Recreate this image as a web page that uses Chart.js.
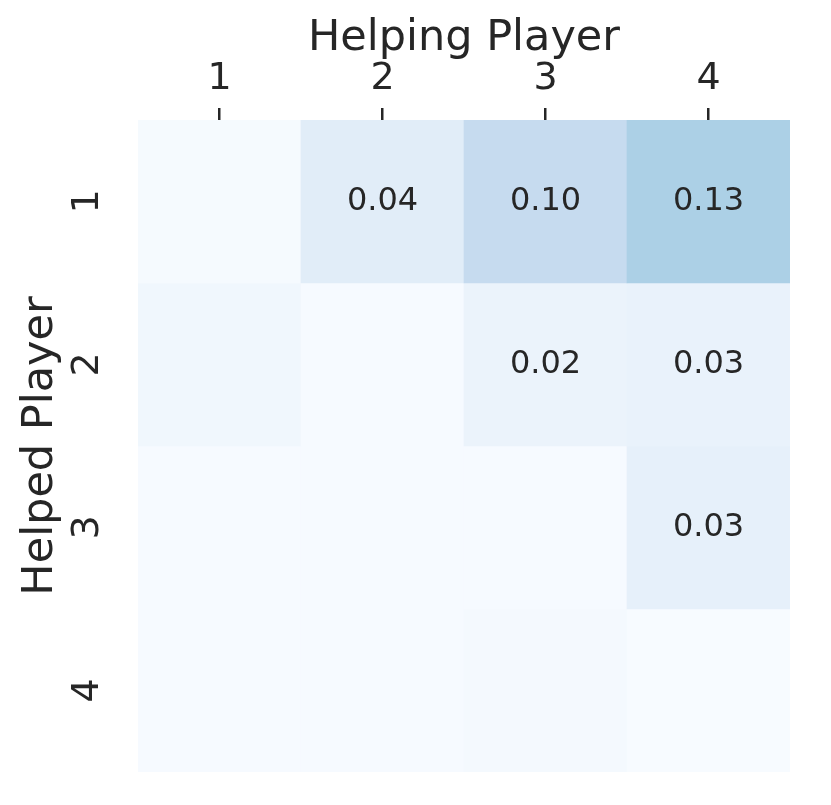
<!DOCTYPE html>
<html><head><meta charset="utf-8">
<script src="https://cdn.jsdelivr.net/npm/chart.js@4"></script>
<style>html,body{margin:0;padding:0;background:#fff}</style>
</head><body>
<canvas id="c" width="831" height="805"></canvas>
<script>
// Columns: helping player; rows: helped player
const helpingLabels = ['1', '2', '3', '4'];
const helpedLabels = ['1', '2', '3', '4'];
const helped1 = [0.004, 0.044, 0.100, 0.133];
const helped2 = [0.014, 0.002, 0.024, 0.028];
const helped3 = [0.003, 0.003, 0.002, 0.034];
const helped4 = [0.003, 0.003, 0.007, 0.001];
const rows = [helped1, helped2, helped3, helped4];
const vmin = 0, vmax = 0.4;
const annotThreshold = 0.015;

const FONT = "'DejaVu Sans', sans-serif";
const INK = '#262626';

// matplotlib "Blues" colormap stops
const blues = ['#f7fbff','#deebf7','#c6dbef','#9ecae1','#6baed6','#4292c6','#2171b5','#08519c','#08306b'];
function hex(h){return [1,3,5].map(i=>parseInt(h.substr(i,2),16));}
function blueColor(v){
  let t = Math.max(0, Math.min(1, (v - vmin) / (vmax - vmin)));
  const p = t * (blues.length - 1);
  const i = Math.min(blues.length - 2, Math.floor(p));
  const f = p - i;
  const a = hex(blues[i]), b = hex(blues[i+1]);
  const c = a.map((x, k) => Math.round(x + (b[k] - x) * f));
  return `rgb(${c[0]},${c[1]},${c[2]})`;
}

const annotPlugin = {
  id: 'annot',
  afterDatasetsDraw(chart) {
    const ctx = chart.ctx;
    ctx.save();
    ctx.font = `32px ${FONT}`;
    ctx.fillStyle = INK;
    ctx.textAlign = 'center';
    ctx.textBaseline = 'middle';
    chart.data.datasets.forEach((ds, di) => {
      const meta = chart.getDatasetMeta(di);
      meta.data.forEach((el, ci) => {
        const v = rows[di][ci];
        if (v >= annotThreshold) {
          ctx.fillText(v.toFixed(2), el.x, (el.y + el.base) / 2);
        }
      });
    });
    ctx.restore();
  }
};

new Chart(document.getElementById('c'), {
  type: 'bar',
  data: {
    labels: helpingLabels,
    datasets: rows.map((row, r) => ({
      data: row.map(() => [r, r + 1]),
      backgroundColor: row.map(blueColor),
      grouped: false,
      barPercentage: 1,
      categoryPercentage: 1,
      borderWidth: 0,
      borderSkipped: false
    }))
  },
  options: {
    responsive: false,
    animation: false,
    layout: { padding: { top: 0, left: 0, right: 41, bottom: 33 } },
    plugins: { legend: { display: false }, tooltip: { enabled: false } },
    scales: {
      x: {
        type: 'category',
        position: 'top',
        offset: true,
        grid: { display: true, drawOnChartArea: false, drawTicks: true, tickLength: 12, color: INK, lineWidth: 2.5, offset: false },
        border: { display: false },
        ticks: { font: { family: FONT, size: 38 }, color: INK, padding: 6, maxRotation: 0, autoSkip: false },
        title: { display: true, text: 'Helping Player', font: { family: FONT, size: 43 }, color: INK, padding: { top: 13, bottom: 0 } },
        afterFit: s => { s.height = 120; s.paddingLeft = 0; s.paddingRight = 0; }
      },
      y: {
        type: 'linear',
        position: 'left',
        min: 0, max: 4,
        reverse: true,
        grid: { display: false, drawTicks: false },
        border: { display: false },
        afterBuildTicks: s => { s.ticks = helpedLabels.map((_, i) => ({ value: i + 0.5 })); },
        ticks: {
          callback: v => helpedLabels[Math.floor(v)],
          font: { family: FONT, size: 38 }, color: INK,
          padding: 38, crossAlign: 'center', minRotation: 90, maxRotation: 90, autoSkip: false
        },
        title: { display: true, text: 'Helped Player', font: { family: FONT, size: 43 }, color: INK, padding: { top: 15, bottom: 0 } },
        afterFit: s => { s.width = 138; s.paddingTop = 0; s.paddingBottom = 0; }
      }
    }
  },
  plugins: [annotPlugin]
});
</script>
</body></html>
